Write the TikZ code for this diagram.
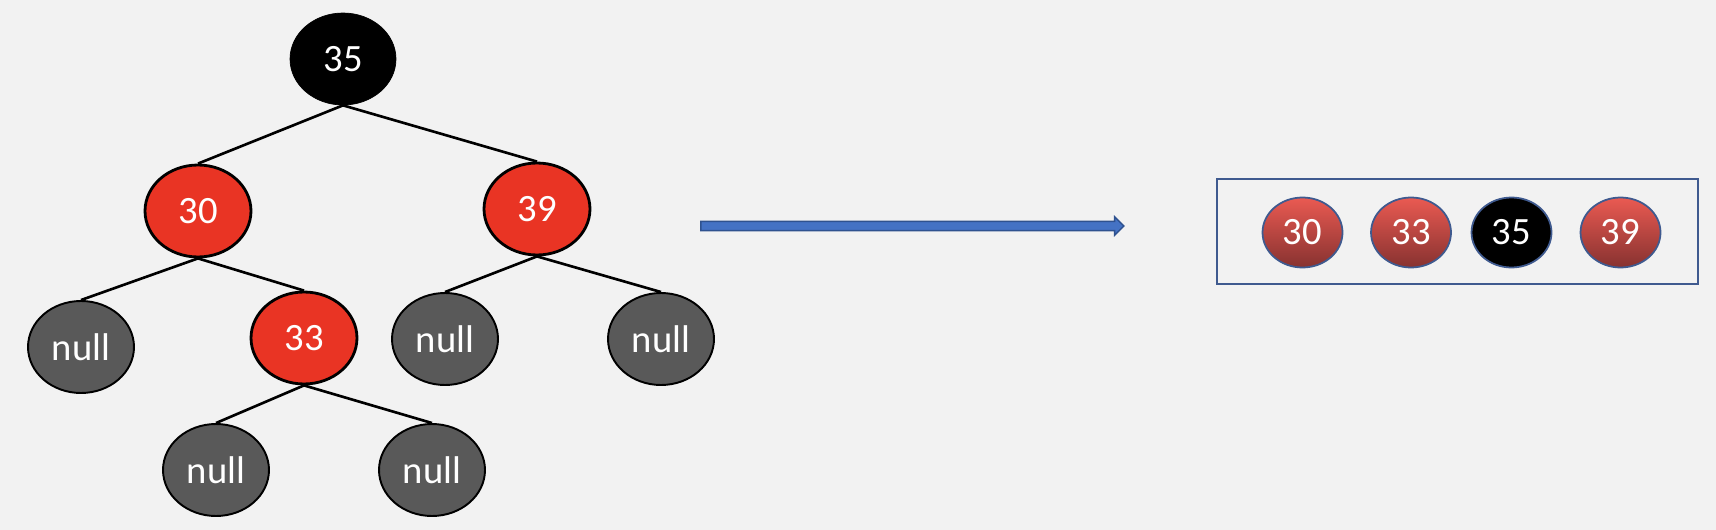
\documentclass[tikz,border=0pt]{standalone}
\usepackage{fontspec}
\setmainfont{Carlito}
\usetikzlibrary{shapes.geometric,shapes.arrows}

\definecolor{bgcol}{RGB}{242,242,242}
\definecolor{rbred}{RGB}{233,52,36}
\definecolor{nullgray}{RGB}{89,89,89}
\definecolor{listblue}{RGB}{63,90,143}
\definecolor{arrowblue}{RGB}{68,114,196}
\definecolor{arrowedge}{RGB}{47,82,143}
\definecolor{gradtop}{RGB}{234,90,82}
\definecolor{gradbot}{RGB}{135,50,48}

\tikzset{
  treenode/.style={ellipse,minimum width=2.12cm,minimum height=1.84cm,inner sep=0pt,
    text=white,font=\fontsize{22}{22}\selectfont},
  rednode/.style={treenode,draw=black,line width=1.6pt,fill=rbred},
  blacknode/.style={treenode,draw=black,fill=black},
  nullnode/.style={treenode,draw=black,line width=1.1pt,fill=nullgray},
  listnode/.style={ellipse,minimum width=1.6cm,minimum height=1.4cm,inner sep=0pt,
    draw=listblue,line width=1pt,text=white,font=\fontsize{22}{22}\selectfont},
  redlist/.style={listnode,top color=gradtop,bottom color=gradbot},
  blacklist/.style={listnode,fill=black},
  treeline/.style={line width=1.5pt}
}

\begin{document}
\begin{tikzpicture}[x=0.02cm,y=-0.02cm]
  \fill[bgcol] (0,0) rectangle (1716,530);

  % tree
  \node[blacknode] (n35) at (343,59) {35};
  \node[rednode] (n30) at (198,211) {30};
  \node[rednode] (n39) at (537,209) {39};
  \node[nullnode] (n30l) at (81,347) {null};
  \node[rednode] (n33) at (304,338) {33};
  \node[nullnode] (n39l) at (445,339) {null};
  \node[nullnode] (n39r) at (661,339) {null};
  \node[nullnode] (n33l) at (216,470) {null};
  \node[nullnode] (n33r) at (432,470) {null};

  \draw[treeline] (n35.south) -- (n30.north);
  \draw[treeline] (n35.south) -- (n39.north);
  \draw[treeline] (n30.south) -- (n30l.north);
  \draw[treeline] (n30.south) -- (n33.north);
  \draw[treeline] (n39.south) -- (n39l.north);
  \draw[treeline] (n39.south) -- (n39r.north);
  \draw[treeline] (n33.south) -- (n33l.north);
  \draw[treeline] (n33.south) -- (n33r.north);

  % arrow
  \node[single arrow,draw=arrowedge,fill=arrowblue,line width=0.8pt,inner sep=0.08cm,
    minimum height=8.46cm,minimum width=0.34cm,single arrow head extend=0.09cm]
    (conv) at (910,226) {};

  % sorted list
  \node[draw=listblue,line width=1.2pt,minimum width=9.62cm,minimum height=2.1cm,inner sep=0pt]
    (listbox) at (1457.5,231.5) {};
  \node[redlist] (l30) at (1302.5,232.5) {30};
  \node[redlist] (l33) at (1411,232.5) {33};
  \node[blacklist] (l35) at (1511.5,232.5) {35};
  \node[redlist] (l39) at (1620.5,232.5) {39};
\end{tikzpicture}
\end{document}
